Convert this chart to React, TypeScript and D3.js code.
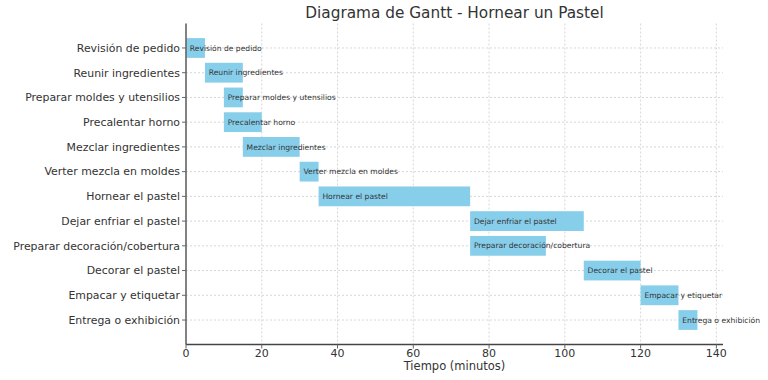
import React from "react";
import * as d3 from "d3";

const tasks = [
  "Revisión de pedido",
  "Reunir ingredientes",
  "Preparar moldes y utensilios",
  "Precalentar horno",
  "Mezclar ingredientes",
  "Verter mezcla en moldes",
  "Hornear el pastel",
  "Dejar enfriar el pastel",
  "Preparar decoración/cobertura",
  "Decorar el pastel",
  "Empacar y etiquetar",
  "Entrega o exhibición",
];
const starts = [0, 5, 10, 10, 15, 30, 35, 75, 75, 105, 120, 130];
const durations = [5, 10, 5, 10, 15, 5, 40, 30, 20, 15, 10, 5];
const xTicks = [0, 20, 40, 60, 80, 100, 120, 140];

const W = 768;
const H = 380;
const M = { left: 186, right: 45, top: 23.5, bottom: 35.5 };
const font = "DejaVu Sans, sans-serif";

export default function App() {
  const x = d3.scaleLinear().domain([0, 141.75]).range([M.left, W - M.right]);
  const y = d3
    .scaleLinear()
    .domain([-0.99, tasks.length - 1 + 0.99])
    .range([M.top, H - M.bottom]);
  const step = y(1) - y(0);
  const bh = step * 0.8;
  const bottom = H - M.bottom;
  return (
    <svg
      width={W}
      height={H}
      style={{ position: "absolute", left: 0, top: 0, background: "#fff" }}
      fontFamily={font}
    >
      <text x={(M.left + W - M.right) / 2} y={18} textAnchor="middle" fontSize={15.3} fill="#333">
        Diagrama de Gantt - Hornear un Pastel
      </text>
      {xTicks.map((t) => (
        <line key={"gx" + t} x1={x(t)} x2={x(t)} y1={M.top} y2={bottom} stroke="#ccc" strokeWidth={0.8} strokeDasharray="2,2" />
      ))}
      {tasks.map((t, i) => (
        <line key={"gy" + i} x1={M.left} x2={W - M.right} y1={y(i)} y2={y(i)} stroke="#ccc" strokeWidth={0.8} strokeDasharray="2,2" />
      ))}
      {tasks.map((t, i) => (
        <rect
          key={"b" + i}
          x={x(starts[i])}
          y={y(i) - bh / 2}
          width={x(starts[i] + durations[i]) - x(starts[i])}
          height={bh}
          fill="#87CEEB"
        />
      ))}
      {tasks.map((t, i) => (
        <text key={"l" + i} x={x(starts[i] + 1)} y={y(i)} dy="0.35em" fontSize={7.6} fill="#333">
          {t}
        </text>
      ))}
      <line x1={M.left} x2={M.left} y1={M.top} y2={bottom} stroke="#666" strokeWidth={1.6} />
      <line x1={M.left} x2={W - M.right} y1={bottom} y2={bottom} stroke="#444" strokeWidth={1.4} />
      {tasks.map((t, i) => (
        <g key={"yt" + i}>
          <line x1={M.left - 4} x2={M.left} y1={y(i)} y2={y(i)} stroke="#666" strokeWidth={1} />
          <text x={M.left - 6} y={y(i)} dy="0.35em" textAnchor="end" fontSize={10.9} fill="#333">
            {t}
          </text>
        </g>
      ))}
      {xTicks.map((t) => (
        <g key={"xt" + t}>
          <line x1={x(t)} x2={x(t)} y1={bottom} y2={bottom + 4} stroke="#666" strokeWidth={1} />
          <text x={x(t)} y={bottom + 12} textAnchor="middle" fontSize={11} fill="#333">
            {t}
          </text>
        </g>
      ))}
      <text x={(M.left + W - M.right) / 2} y={370} textAnchor="middle" fontSize={11.5} fill="#333">
        Tiempo (minutos)
      </text>
    </svg>
  );
}
